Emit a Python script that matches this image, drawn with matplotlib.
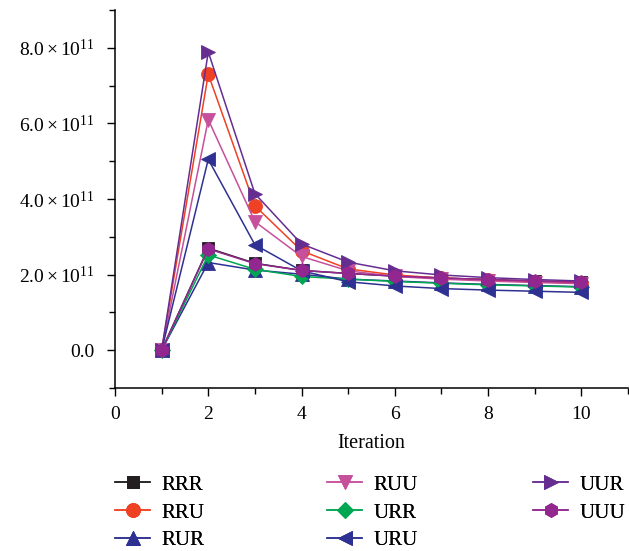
import matplotlib
matplotlib.use("Agg")
import matplotlib.pyplot as plt
from matplotlib.ticker import FuncFormatter, MultipleLocator

plt.rcParams["font.family"] = ["Liberation Serif", "DejaVu Serif"]
plt.rcParams["mathtext.fontset"] = "custom"
plt.rcParams["mathtext.rm"] = "Liberation Serif"
plt.rcParams["mathtext.it"] = "Liberation Serif:italic"
plt.rcParams["mathtext.bf"] = "Liberation Serif:bold"

# Iteration index and objective values (units of 1e11)
iterations = [1, 2, 3, 4, 5, 6, 7, 8, 9, 10]
series_names = ["RRR", "RRU", "RUR", "RUU", "URR", "URU", "UUR", "UUU"]
RRR = [0, 2.70, 2.30, 2.11, 2.03, 1.96, 1.91, 1.87, 1.83, 1.80]
RRU = [0, 7.30, 3.82, 2.63, 2.15, 1.99, 1.91, 1.86, 1.81, 1.78]
RUR = [0, 2.32, 2.12, 2.01, 1.88, 1.83, 1.78, 1.74, 1.71, 1.68]
RUU = [0, 6.10, 3.40, 2.48, 2.10, 1.95, 1.88, 1.83, 1.79, 1.76]
URR = [0, 2.52, 2.14, 1.95, 1.88, 1.82, 1.77, 1.73, 1.70, 1.67]
URU = [0, 5.05, 2.79, 2.10, 1.81, 1.70, 1.63, 1.59, 1.56, 1.53]
UUR = [0, 7.89, 4.14, 2.81, 2.33, 2.10, 1.99, 1.92, 1.87, 1.83]
UUU = [0, 2.68, 2.29, 2.11, 2.03, 1.96, 1.91, 1.87, 1.83, 1.80]
values = [RRR, RRU, RUR, RUU, URR, URU, UUR, UUU]

colors = ["#231f20", "#ef4123", "#2e3192", "#c7509c",
          "#00a651", "#2e3192", "#662d91", "#92278f"]
markers = ["s", "o", "^", "v", "D", "<", ">", "h"]
msizes = [8, 10, 10, 10, 8, 10, 10, 10]

fig = plt.figure(figsize=(6.29, 5.51), dpi=100)
ax = fig.add_axes([115 / 629, 163 / 551, 513 / 629, 378 / 551])

handles = []
for name, vals, c, m, ms in zip(series_names, values, colors, markers, msizes):
    y = [v * 1e11 for v in vals]
    h, = ax.plot(iterations, y, color=c, marker=m, markersize=ms,
                 markeredgecolor=c, markeredgewidth=0.6, linewidth=1.1,
                 label=name)
    handles.append(h)

ax.set_xlim(0, 11)
ax.set_ylim(-1e11, 9e11)
ax.xaxis.set_major_locator(MultipleLocator(2))
ax.xaxis.set_minor_locator(MultipleLocator(1))
ax.yaxis.set_major_locator(MultipleLocator(2e11))
ax.yaxis.set_minor_locator(MultipleLocator(1e11))


def sci_fmt(v, pos):
    if abs(v) < 1:
        return "0.0"
    return r"$%.1f\times10^{11}$" % (v / 1e11)


ax.yaxis.set_major_formatter(FuncFormatter(sci_fmt))

for side in ("top", "right"):
    ax.spines[side].set_visible(False)
for side in ("left", "bottom"):
    ax.spines[side].set_linewidth(1.1)

ax.tick_params(axis="both", which="major", direction="out", length=6,
               width=1.0, labelsize=14, pad=7)
ax.tick_params(axis="both", which="minor", direction="out", length=4,
               width=1.0)
ax.tick_params(axis="y", which="major", pad=9)

ax.set_xlabel("Iteration", fontsize=14.5, labelpad=8)

# Legend laid out in three columns below the axes
col_x = [115, 327, 533]
col_items = [[0, 1, 2], [3, 4, 5], [6, 7]]
for cx, items in zip(col_x, col_items):
    leg = fig.legend([handles[i] for i in items],
                     [series_names[i] for i in items],
                     loc="upper left",
                     bbox_to_anchor=(cx / 629, 1 - 475 / 551),
                     frameon=False, fontsize=15, handlelength=1.7,
                     handletextpad=0.55, labelspacing=0.4,
                     borderpad=0, borderaxespad=0)
    fig.add_artist(leg)

fig.savefig("out.png", dpi=100)
